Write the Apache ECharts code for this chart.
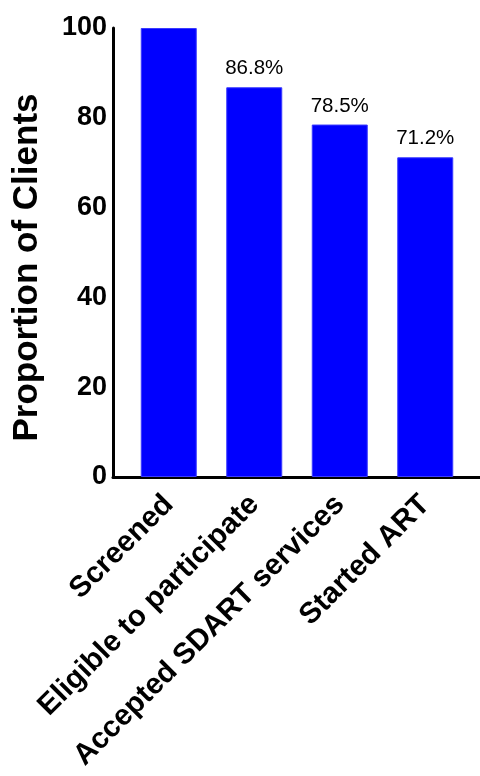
<!DOCTYPE html>
<html>
<head>
<meta charset="utf-8">
<script src="https://cdn.jsdelivr.net/npm/echarts@6/dist/echarts.min.js"></script>
<style>
html,body{margin:0;padding:0;background:#fff;}
#chart{width:480px;height:776px;}
</style>
</head>
<body>
<div id="chart"></div>
<script>
const categories = ['Screened', 'Eligible to participate', 'Accepted SDART services', 'Started ART'];
const values = [100, 86.8, 78.5, 71.2];
const barLabels = ['', '86.8%', '78.5%', '71.2%'];
const yTicks = [0, 20, 40, 60, 80, 100];
const yTitle = 'Proportion of Clients';

const FONT = '"Liberation Sans", Arial, Helvetica, sans-serif';
const chart = echarts.init(document.getElementById('chart'));
chart.setOption({
  animation: false,
  backgroundColor: '#ffffff',
  grid: [
    { left: 126, right: 12, top: 28, bottom: 299 },
    { left: 113, right: 0, top: 28, bottom: 299 }
  ],
  xAxis: [
    {
      type: 'category', gridIndex: 0, data: categories,
      axisLine: { show: false }, axisTick: { show: false },
      axisLabel: {
        rotate: 45, interval: 0, margin: 23,
        fontFamily: FONT, fontWeight: 'bold', fontSize: 29.5, color: '#000'
      }
    },
    {
      type: 'value', gridIndex: 1, min: 0, max: 1,
      axisLine: { show: true, lineStyle: { color: '#000', width: 3 } },
      axisTick: { show: false }, axisLabel: { show: false }, splitLine: { show: false }
    }
  ],
  yAxis: [
    {
      type: 'value', gridIndex: 0, min: 0, max: 100, show: false
    },
    {
      type: 'value', gridIndex: 1, min: yTicks[0], max: yTicks[yTicks.length - 1], interval: 20,
      axisLine: { show: true, lineStyle: { color: '#000', width: 3 } },
      axisTick: { show: false },
      splitLine: { show: false },
      axisLabel: { margin: 6, fontFamily: FONT, fontWeight: 'bold', fontSize: 27, color: '#000' },
      name: yTitle, nameLocation: 'middle', nameRotate: 90, nameGap: 68,
      nameTextStyle: { fontFamily: FONT, fontWeight: 'bold', fontSize: 35, color: '#000', padding: [0, 30, 0, 0] }
    }
  ],
  series: [
    {
      type: 'bar', xAxisIndex: 0, yAxisIndex: 0,
      barWidth: 56,
      itemStyle: { color: '#0000ff', borderColor: '#3a3aff', borderWidth: 1 },
      label: {
        show: true, position: 'top', distance: 8,
        fontFamily: FONT, fontSize: 20.5, color: '#000',
        formatter: p => barLabels[p.dataIndex]
      },
      data: values
    }
  ]
});
</script>
</body>
</html>
